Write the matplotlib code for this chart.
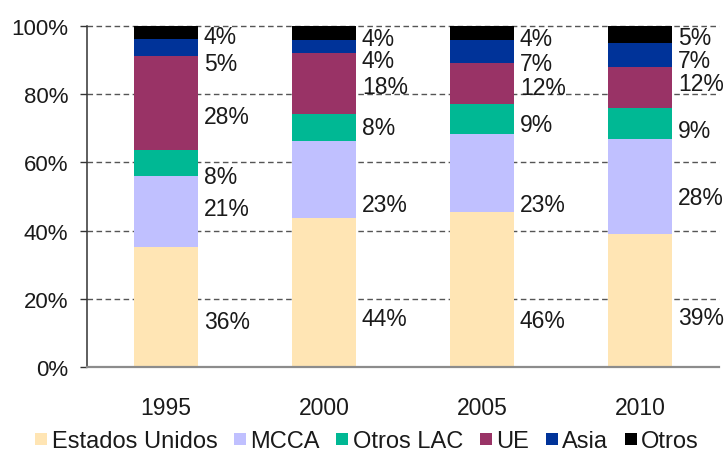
import matplotlib
matplotlib.use("Agg")
import matplotlib.pyplot as plt
from matplotlib.lines import Line2D
import numpy as np

plt.rcParams['font.family'] = ['Liberation Sans', 'DejaVu Sans']

years = ["1995", "2000", "2005", "2010"]
series = ["Estados Unidos", "MCCA", "Otros LAC", "UE", "Asia", "Otros"]
estados_unidos = [36, 44, 46, 39]
mcca = [21, 23, 23, 28]
otros_lac = [8, 8, 9, 9]
ue = [28, 18, 12, 12]
asia = [5, 4, 7, 7]
otros = [4, 4, 4, 5]

colors = ["#FFE5B4", "#C0C0FF", "#00B894", "#993366", "#003399", "#000000"]
# vertical position of each value label (axis %), layout only
label_y = [
    [13.2, 14.1, 13.6, 14.6],
    [46.6, 47.8, 47.8, 49.8],
    [56.0, 70.3, 71.0, 69.3],
    [73.6, 82.3, 82.0, 83.2],
    [89.1, 89.8, 89.0, 89.9],
    [96.8, 96.4, 96.4, 96.5],
]

data = np.array([estados_unidos, mcca, otros_lac, ue, asia, otros], dtype=float)
shares = data / data.sum(axis=0) * 100

fig = plt.figure(figsize=(7.27, 4.52), dpi=100)
ax = fig.add_axes([87/727, 1-368/452, (719-87)/727, (368-27)/452])

x = np.arange(len(years))
width = 0.41
bottom = np.zeros(len(years))
for i, name in enumerate(series):
    ax.bar(x, shares[i], width, bottom=bottom, color=colors[i], label=name,
           zorder=2, linewidth=0)
    bottom += shares[i]

for i in range(len(series)):
    for j in range(len(years)):
        ax.annotate(f"{int(data[i, j])}%", xy=(x[j] + width/2, label_y[i][j]),
                    xytext=(4, 0), textcoords="offset points",
                    ha="left", va="center", fontsize=16.5, color="#1a1a1a", zorder=3)

ax.set_xlim(-0.5, 3.5)
ax.set_ylim(0, 100)
ax.set_yticks([0, 20, 40, 60, 80, 100])
ax.set_yticklabels([f"{v}%" for v in [0, 20, 40, 60, 80, 100]])
ax.set_xticks(x)
ax.set_xticklabels(years)
ax.tick_params(axis="y", length=5, width=1, pad=8.5, labelsize=16, color="#333333",
               labelcolor="#1a1a1a")
ax.tick_params(axis="x", length=0, pad=21, labelsize=16.5, labelcolor="#1a1a1a")

for v in [20, 40, 60, 80, 100]:
    ax.axhline(v, color="#555555", linewidth=1, linestyle=(0, (4, 2.5)), zorder=1,
               clip_on=False)

for s in ["top", "right"]:
    ax.spines[s].set_visible(False)
ax.spines["left"].set_color("#333333")
ax.spines["left"].set_linewidth(1.1)
ax.spines["bottom"].set_color("#8c8c8c")
ax.spines["bottom"].set_linewidth(1.6)
ax.spines["left"].set_zorder(4)
ax.spines["bottom"].set_zorder(4)

handles = [Line2D([0], [0], marker="s", linestyle="none", markersize=8.5,
                  markerfacecolor=c, markeredgewidth=0) for c in colors]
fig.legend(handles, series, loc="center", bbox_to_anchor=(367/727, 1-442/452),
           ncol=6, frameon=False, fontsize=17, handlelength=0.5,
           handletextpad=0.2, columnspacing=0.7, borderaxespad=0, borderpad=0,
           labelcolor="#1a1a1a")

fig.savefig("out.png", dpi=100)
